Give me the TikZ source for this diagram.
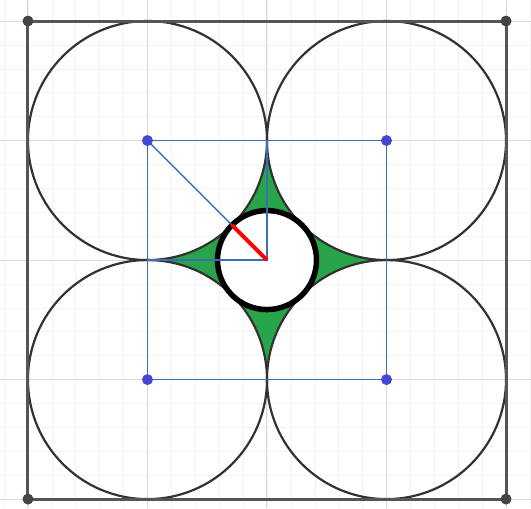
\documentclass[tikz,border=0pt]{standalone}
\usetikzlibrary{calc}
\definecolor{gridmaj}{RGB}{218,218,218}
\definecolor{gridmin}{RGB}{243,243,243}
\definecolor{framegray}{RGB}{85,85,85}
\definecolor{circgray}{RGB}{50,50,50}
\definecolor{bluel}{RGB}{60,110,180}
\definecolor{bluedot}{RGB}{70,70,210}
\definecolor{gfill}{RGB}{40,165,75}
\tikzset{
  bigcirc/.style={draw=circgray,line width=2.2pt},
  frame/.style={draw=framegray,line width=3pt},
  bline/.style={draw=bluel,line width=1.5pt},
  bdot/.style={circle,fill=bluedot,inner sep=0pt,minimum size=11pt},
  cdot/.style={circle,fill=framegray!80!black,inner sep=0pt,minimum size=11pt},
  redseg/.style={draw=red,line width=3.8pt},
  smallc/.style={draw=black,line width=5.5pt}
}
\begin{document}
\begin{tikzpicture}[x=119.5pt,y=119.5pt]
\useasboundingbox (-2.234,-2.075) rectangle (2.209,2.176);
% grid
\draw[gridmin,line width=0.6pt,step=0.2] (-2.234,-2.075) grid (2.209,2.176);
\draw[gridmaj,line width=1pt,step=1] (-2.234,-2.075) grid (2.209,2.176);
% named points
\coordinate (O) at (0,0);
\coordinate (TL) at (-1,1);
\coordinate (TR) at (1,1);
\coordinate (BL) at (-1,-1);
\coordinate (BR) at (1,-1);
\coordinate (T) at (0,1);
\coordinate (L) at (-1,0);
% green curved region
\fill[gfill] (0,1) arc[start angle=0,end angle=-90,radius=1]
  arc[start angle=90,end angle=0,radius=1]
  arc[start angle=180,end angle=90,radius=1]
  arc[start angle=270,end angle=180,radius=1] -- cycle;
\fill[white] (O) circle[radius=0.4142];
% four big circles
\foreach \p in {TL,TR,BL,BR} \draw[bigcirc] (\p) circle[radius=1];
% outer frame
\draw[frame] (-2,-2) rectangle (2,2);
\node[cdot] (c1) at (-2,2) {};
\node[cdot] (c2) at (2,2) {};
\node[cdot] (c3) at (2,-2) {};
\node[cdot] (c4) at (-2,-2) {};
% small circle
\draw[smallc] (O) circle[radius=0.4142];
% blue lines
\draw[bline] (TL) -- (TR) -- (BR) -- (BL) -- cycle;
\draw[bline] (TL) -- (O);
\draw[bline] (T) -- (O) -- (L);
% red radius
\draw[redseg] (O) -- (135:0.4142);
% blue dots
\node[bdot] (d1) at (TL) {};
\node[bdot] (d2) at (TR) {};
\node[bdot] (d3) at (BL) {};
\node[bdot] (d4) at (BR) {};
\end{tikzpicture}
\end{document}
